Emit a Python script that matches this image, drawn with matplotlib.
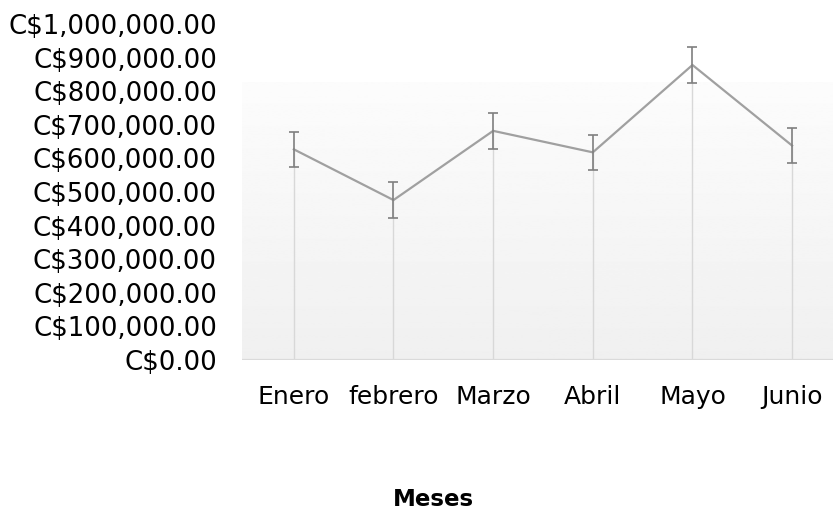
import numpy as np
import matplotlib
matplotlib.use("Agg")
import matplotlib.pyplot as plt
from matplotlib.ticker import FuncFormatter

# Datos
meses = ["Enero", "febrero", "Marzo", "Abril", "Mayo", "Junio"]
ventas = [627000, 476000, 682000, 618000, 878000, 638000]
error = [53000, 53000, 53000, 53000, 53000, 53000]
y_ticks = [0, 100000, 200000, 300000, 400000, 500000,
           600000, 700000, 800000, 900000, 1000000]

plt.rcParams['font.family'] = ['DejaVu Sans']

fig = plt.figure(figsize=(8.33, 5.12), dpi=100)
ax = fig.add_axes([242 / 833, 152 / 512, 591 / 833, 336 / 512])

x = np.arange(len(meses))
x0, x1 = -0.52, len(meses) - 0.59
ax.set_xlim(x0, x1)
ax.set_ylim(0, 1000000)

# Fondo degradado (casi blanco arriba, gris claro abajo)
grad = np.linspace(0.94, 0.988, 256).reshape(-1, 1)
ax.imshow(grad, cmap='gray', vmin=0, vmax=1, aspect='auto',
          extent=[x0, x1, 0, 827000], origin='lower', zorder=0)

# Líneas de caída hasta el eje
ax.vlines(x, 0, ventas, colors='#d8d8d8', linewidth=1, zorder=1)
ax.axhline(0, color='#dadada', linewidth=1.6, zorder=1)

# Serie con barras de error
ax.plot(x, ventas, color='#a0a0a0', linewidth=1.6, zorder=3, clip_on=False)
ax.errorbar(x, ventas, yerr=error, fmt='none', ecolor='#7f7f7f',
            elinewidth=1.2, capsize=3.5, capthick=1.2, zorder=4, clip_on=False)

for s in ax.spines.values():
    s.set_visible(False)

ax.set_xticks(x)
ax.set_xticklabels(meses)
ax.set_yticks(y_ticks)
ax.yaxis.set_major_formatter(FuncFormatter(lambda v, p: "C${:,.2f}".format(v)))
ax.tick_params(axis='both', length=0, colors='black')
ax.tick_params(axis='x', pad=18, labelsize=18)
ax.tick_params(axis='y', pad=18, labelsize=18.7)

fig.text(433 / 833, 1 - 499 / 512, "Meses", ha='center', va='center',
         fontsize=16.5, fontweight='bold')

fig.savefig("out.png", dpi=100)
